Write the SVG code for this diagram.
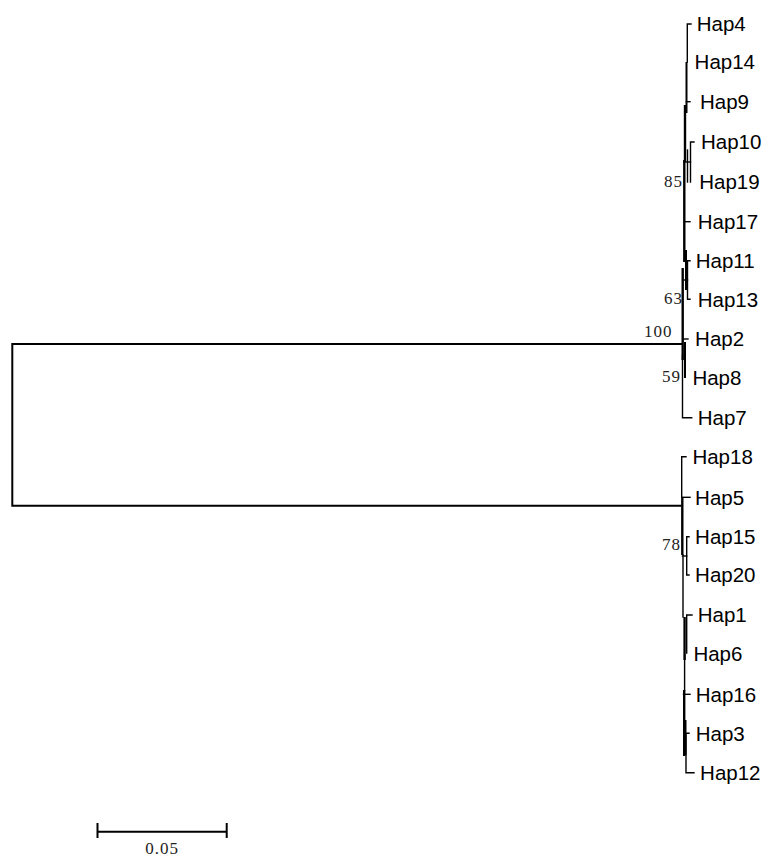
<svg xmlns="http://www.w3.org/2000/svg" width="766" height="857" viewBox="0 0 766 857">
<style>
.b{stroke:#000;stroke-width:1.4;fill:none;stroke-linecap:square}
.t{stroke:#000;stroke-width:2.4;fill:none}
.r{stroke:#000;stroke-width:2;fill:none}
.lab{font-family:"Liberation Sans",Arial,sans-serif;font-size:20.5px;fill:#000}
.bs{font-family:"Liberation Serif","Times New Roman",serif;font-size:17px;letter-spacing:1px;fill:#222}
</style>
<rect width="766" height="857" fill="#fff"/>
<g id="connectors">
<path class="r" d="M682.5,344 H12.3 V505.7 H681.7"/>
<path class="b" d="M691,24 H687.3 V62"/>
<path class="r" d="M686.5,62 V113"/>
<path class="b" d="M690,101.7 H686.5"/>
<path class="t" d="M685,105 V162"/>
<path class="b" d="M694,142 H690.5 V182"/>
<path class="b" d="M687.5,150 V182"/>
<path class="b" d="M684,162 H690.5"/>
<path class="t" d="M684.3,160 V262"/>
<path class="b" d="M690,221.7 H684.5"/>
<path class="b" d="M690,260.7 H687.5 V299.3 H690"/>
<path class="r" d="M686,250 V290"/>
<path class="b" d="M684,280 H687.5"/>
<path class="t" d="M682.7,268 V360"/>
<path class="b" d="M682.5,355 V417.7 H691.7"/>
<path class="b" d="M683,339 H688"/>
<path class="r" d="M685,342 V378"/>
<path class="b" d="M686,456.7 H681.7 V497"/>
<path class="b" d="M682,497.3 H690"/>
<path class="t" d="M682.3,497 V555"/>
<path class="b" d="M689,536.7 H686.7 V575 H689"/>
<path class="b" d="M682.5,556 H686.7"/>
<path class="b" d="M683,555 V617"/>
<path class="b" d="M692,615 H686.7 V653"/>
<path class="t" d="M684.6,617 V660"/>
<path class="b" d="M684.6,655 V690"/>
<path class="t" d="M684.2,690 V756"/>
<path class="b" d="M683.5,694.3 H690"/>
<path class="b" d="M689,733.3 H686 V772.7 H694"/>
<path class="t" d="M685.3,720 V755"/>
</g>
<g id="nodes">
<g id="Hap4"><text class="lab" x="696.7" y="31.3">Hap4</text></g>
<g id="Hap14"><text class="lab" x="694.6" y="69.3">Hap14</text></g>
<g id="Hap9"><text class="lab" x="700" y="109">Hap9</text></g>
<g id="Hap10"><text class="lab" x="701" y="149.3">Hap10</text></g>
<g id="Hap19"><text class="lab" x="699.2" y="189.3">Hap19</text></g>
<g id="Hap17"><text class="lab" x="697.7" y="229">Hap17</text></g>
<g id="Hap11"><text class="lab" x="695.7" y="268">Hap11</text></g>
<g id="Hap13"><text class="lab" x="697.7" y="306.6">Hap13</text></g>
<g id="Hap2"><text class="lab" x="695.1" y="346.3">Hap2</text></g>
<g id="Hap8"><text class="lab" x="692.4" y="385.3">Hap8</text></g>
<g id="Hap7"><text class="lab" x="697.7" y="425">Hap7</text></g>
<g id="Hap18"><text class="lab" x="692.4" y="464">Hap18</text></g>
<g id="Hap5"><text class="lab" x="695.1" y="504.6">Hap5</text></g>
<g id="Hap15"><text class="lab" x="695.1" y="544">Hap15</text></g>
<g id="Hap20"><text class="lab" x="695.1" y="582.3">Hap20</text></g>
<g id="Hap1"><text class="lab" x="697.7" y="622.3">Hap1</text></g>
<g id="Hap6"><text class="lab" x="693.4" y="661">Hap6</text></g>
<g id="Hap16"><text class="lab" x="695.7" y="701.6">Hap16</text></g>
<g id="Hap3"><text class="lab" x="695.7" y="740.6">Hap3</text></g>
<g id="Hap12"><text class="lab" x="700.1" y="780">Hap12</text></g>
<g id="bootstrap">
<text class="bs" x="644" y="337">100</text>
<text class="bs" x="664" y="186.5">85</text>
<text class="bs" x="664" y="304">63</text>
<text class="bs" x="662" y="382">59</text>
<text class="bs" x="662" y="550">78</text>
</g>
</g>
<g id="scalebar">
<path class="r" d="M97.5,831.7 H226.7 M97.5,823 V838 M226.7,823 V838"/>
<text class="bs" x="162" y="854" text-anchor="middle">0.05</text>
</g>
</svg>
